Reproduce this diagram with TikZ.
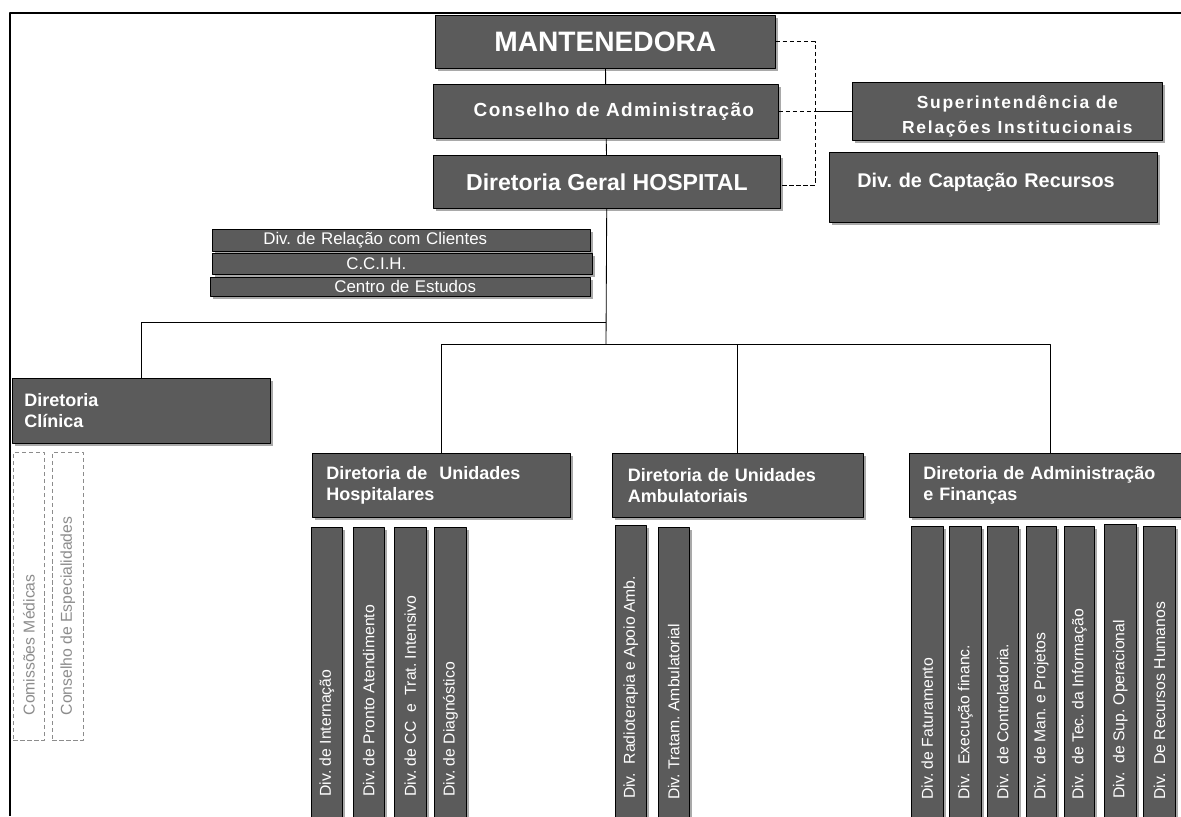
\documentclass[tikz,border=0pt]{standalone}
\usepackage{fontspec}
\usepackage{graphicx}
\setmainfont{Liberation Sans}
\usetikzlibrary{shadows}
\definecolor{boxgray}{HTML}{5B5B5B}
\definecolor{shadowgray}{HTML}{A9A9A9}
\definecolor{dashgray}{HTML}{8C8C8C}
\frenchspacing
%texto vertical das divisoes
\newcommand{\vtext}[2][6.125cm]{\rotatebox{90}{\makebox[#1][l]{#2}}}
\begin{document}
\begin{tikzpicture}[x=0.025cm, y=-0.025cm, line join=round,
  size/.style 2 args={anchor=north west, minimum width=#1*0.025cm, minimum height=#2*0.025cm},
  box/.style={draw=black, line width=0.5pt, fill=boxgray, text=white, inner sep=0pt,
    drop shadow={shadow xshift=0.06cm, shadow yshift=-0.06cm, fill=shadowgray, opacity=1}},
  topbox/.style={box, font=\bfseries\fontsize{20pt}{24pt}\selectfont},
  spaced/.style={box, font=\bfseries\addfontfeature{LetterSpace=7}\fontsize{13.5pt}{17pt}\selectfont},
  diretoria/.style={box, align=left, font=\bfseries\fontsize{12.8pt}{15pt}\selectfont},
  strip/.style={box, align=left, text width=9.3cm, font=\fontsize{12pt}{14pt}\selectfont},
  divbar/.style={box, font=\fontsize{11.2pt}{13pt}\selectfont},
  comissao/.style={draw=dashgray, dash pattern=on 3pt off 2pt, text=dashgray, inner sep=0pt,
    font=\fontsize{11.2pt}{13pt}\selectfont},
  link/.style={draw=black, line width=0.6pt},
  dlink/.style={link, dash pattern=on 3pt off 2pt}]
\useasboundingbox (0,0) rectangle (1181,816);
%moldura
\draw[line width=1.4pt] (1181,13) -| (10,816);
%topo
\node[topbox, size={340}{53}] (mant) at (435,15) {MANTENEDORA};
\node[spaced, size={345}{54}] (cons) at (433,84) {\hspace*{0.4cm}Conselho de Administração};
\node[box, size={347}{53}, font=\bfseries\fontsize{16.4pt}{20pt}\selectfont] (geral) at (433,155) {Diretoria Geral HOSPITAL};
\node[box, size={310}{58}, align=center, font=\bfseries\addfontfeature{LetterSpace=10}\fontsize{12.4pt}{17.5pt}\selectfont]
  (super) at (852,82) {\rule{0pt}{5.7mm}\hspace*{0.5cm}Superintendência de\\\hspace*{0.5cm}Relações Institucionais};
\node[box, size={328}{70}, align=left, text width=6.8cm, font=\bfseries\fontsize{14.1pt}{17pt}\selectfont]
  (capt) at (829,152) {\smash{Div. de Captação Recursos}};
%assessorias
\node[strip, size={378}{22}] (rel) at (212,229) {\hspace*{1.2cm}Div. de Relação com Clientes};
\node[strip, size={380}{21}] (ccih) at (212,253) {\hspace*{3.25cm}C.C.I.H.};
\node[strip, size={380}{19}] (estudos) at (210,277) {\hspace*{3.0cm}Centro de Estudos};
%diretorias
\node[diretoria, size={258}{65}, text width=5.85cm] (clin) at (12,378) {Diretoria\\Clínica};
\node[diretoria, size={258}{64}, text width=5.75cm] (hosp) at (312,453) {Diretoria de \ Unidades\\Hospitalares};
\node[diretoria, size={251}{64}, text width=5.5cm] (amb) at (612,453) {Diretoria de Unidades\\Ambulatoriais};
\node[diretoria, size={282}{64}, text width=6.35cm] (adm) at (909,453) {Diretoria de Administração\\e Finanças};
%comissoes
\node[comissao, size={31}{288}] (com) at (13,452) {\vtext[5.95cm]{Comissões Médicas}};
\node[comissao, size={31}{288}] (esp) at (52,452) {\vtext[5.95cm]{Conselho de Especialidades}};
%divisoes hospitalares
\node[divbar, size={31}{293}] (h1) at (311,527) {\vtext{Div. de Internação}};
\node[divbar, size={31}{293}] (h2) at (353,527) {\vtext{Div. de Pronto Atendimento}};
\node[divbar, size={32}{293}] (h3) at (394,527) {\vtext{Div. de CC \ e \ Trat. Intensivo}};
\node[divbar, size={32}{293}] (h4) at (434,527) {\vtext{Div. de Diagnóstico}};
%divisoes ambulatoriais
\node[divbar, size={31}{295}] (a1) at (615,525) {\vtext[6.3cm]{Div. \ Radioterapia e Apoio Amb.}};
\node[divbar, size={31}{293}] (a2) at (658,527) {\vtext[6.3cm]{Div. Tratam. Ambulatorial}};
%divisoes administrativas
\node[divbar, size={32}{294}] (f1) at (911,526) {\vtext[6.3cm]{Div. de Faturamento}};
\node[divbar, size={32}{294}] (f2) at (949,526) {\vtext[6.3cm]{Div. \ Execução financ.}};
\node[divbar, size={31}{294}] (f3) at (987,526) {\vtext[6.3cm]{Div. \ de Controladoria.}};
\node[divbar, size={30}{294}] (f4) at (1026,526) {\vtext[6.3cm]{Div. \ de Man. e Projetos}};
\node[divbar, size={30}{294}] (f5) at (1064,526) {\vtext[6.3cm]{Div. \ de Tec. da Informação}};
\node[divbar, size={32}{296}] (f6) at (1104,524) {\vtext[6.3cm]{Div. \ de Sup. Operacional}};
\node[divbar, size={32}{294}] (f7) at (1143,526) {\vtext[6.3cm]{Div. \ De Recursos Humanos}};
%ligacoes
\coordinate (j1) at (606,322);
\coordinate (j2) at (606,344);
\coordinate (dl) at (815,185);
\draw[link] (mant) -- (cons);
\draw[link] (cons) -- (geral);
\draw[link] (geral) -- (j2);
\draw[link] (j1) -| (clin);
\draw[link] (j2) -| (hosp);
\draw[link] (j2) -| (amb);
\draw[link] (j2) -| (adm);
\draw[dlink] (mant) -| (dl) -- (dl -| geral.east);
\draw[dlink] (cons.east) -- (cons.east -| dl);
\draw[link] (cons.east -| dl) -- (super);
\end{tikzpicture}
\end{document}
